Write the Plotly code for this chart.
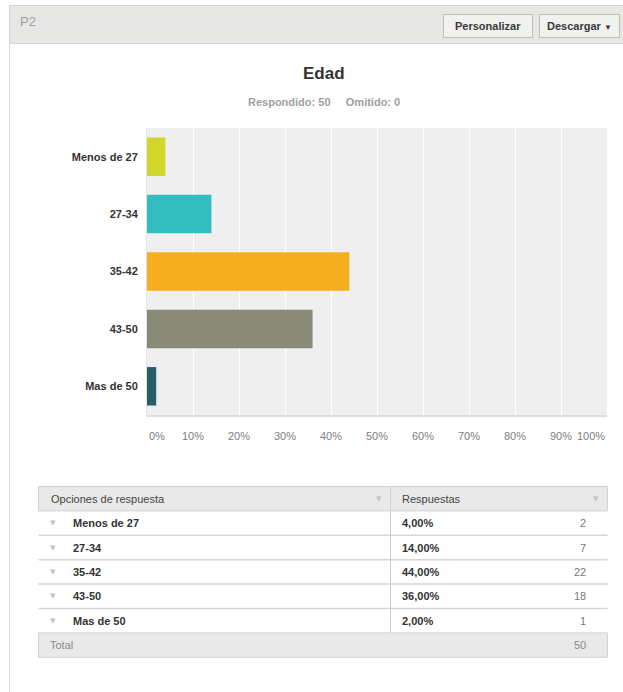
import plotly.graph_objects as go

# ---- data ----
categories = ["Menos de 27", "27-34", "35-42", "43-50", "Mas de 50"]
percentages = [4.0, 14.0, 44.0, 36.0, 2.0]
counts = [2, 7, 22, 18, 1]
total = 50
omitted = 0
bar_colors = ["#d0d62a", "#33bdbf", "#f7ae1e", "#8a8a78", "#2a5d6a"]
x_tick_vals = [0, 10, 20, 30, 40, 50, 60, 70, 80, 90, 100]
x_tick_text = ["0%", "10%", "20%", "30%", "40%", "50%",
               "60%", "70%", "80%", "90%", "100%"]

W, H = 623, 692
FONT = "Liberation Sans, Arial, sans-serif"


def px(x):
    return x / W


def py(y):
    return 1 - y / H


fig = go.Figure()
fig.add_trace(go.Bar(
    x=percentages, y=categories, orientation="h",
    marker=dict(color=bar_colors, line=dict(width=0)),
    width=0.67, hoverinfo="skip", showlegend=False,
))

shapes = []
annotations = []

# header bar
shapes.append(dict(type="rect", xref="paper", yref="paper",
                   x0=px(9.5), x1=px(640), y0=py(5.5), y1=py(43.5),
                   fillcolor="#e7e7e5", line=dict(color="#d6d6d4", width=1), layer="below"))
# left panel border
shapes.append(dict(type="line", xref="paper", yref="paper",
                   x0=px(9.5), x1=px(9.5), y0=py(43.5), y1=py(700),
                   line=dict(color="#d9d9d9", width=1)))
annotations.append(dict(text="P2", x=px(18), y=py(22), xref="paper", yref="paper",
                        xanchor="left", yanchor="middle", showarrow=False,
                        font=dict(family=FONT, size=13, color="#a0a0a0")))

# buttons
for (bx0, bx1, label) in [(443.5, 532.5, "<b>Personalizar</b>"),
                          (539.5, 619.5, "<b>Descargar</b> <span style='font-size:8px'>▼</span>")]:
    shapes.append(dict(type="rect", xref="paper", yref="paper",
                       x0=px(bx0), x1=px(bx1), y0=py(14.5), y1=py(37.5),
                       fillcolor="#f1f1ef", line=dict(color="#bdbdbb", width=1)))
    annotations.append(dict(text=label, x=px((bx0 + bx1) / 2), y=py(26),
                            xref="paper", yref="paper", xanchor="center", yanchor="middle",
                            showarrow=False, font=dict(family=FONT, size=11, color="#3a3a3a")))

# title / subtitle
annotations.append(dict(text="<b>Edad</b>", x=px(324), y=py(74), xref="paper", yref="paper",
                        xanchor="center", yanchor="middle", showarrow=False,
                        font=dict(family=FONT, size=17, color="#333333")))
annotations.append(dict(text=f"<b>Respondido: {total}</b>" + "\u00a0" * 5 + f"<b>Omitido: {omitted}</b>",
                        x=px(324), y=py(102), xref="paper", yref="paper",
                        xanchor="center", yanchor="middle", showarrow=False,
                        font=dict(family=FONT, size=11, color="#a0a0a0")))

# x tick labels placed through the x axis scale (first left-aligned, last right-aligned)
for i, (tv, tt) in enumerate(zip(x_tick_vals, x_tick_text)):
    anchor = "left" if i == 0 else ("right" if i == len(x_tick_vals) - 1 else "center")
    annotations.append(dict(text=tt, x=tv, y=py(436), xref="x", yref="paper",
                            xanchor=anchor, yanchor="middle", showarrow=False,
                            font=dict(family=FONT, size=11, color="#808080")))

# ---- table ----
TL, TR, TD = 38.5, 607.5, 390.5
top = 486.5
rh = 24.4
n = len(categories)
rows_y = [top + rh * i for i in range(n + 3)]

# header
shapes.append(dict(type="rect", xref="paper", yref="paper",
                   x0=px(TL), x1=px(TR), y0=py(rows_y[0]), y1=py(rows_y[1]),
                   fillcolor="#e9e9e9", line=dict(color="#d2d2d2", width=1)))
# total row
shapes.append(dict(type="rect", xref="paper", yref="paper",
                   x0=px(TL), x1=px(TR), y0=py(rows_y[n + 1]), y1=py(rows_y[n + 2]),
                   fillcolor="#e9e9e9", line=dict(color="#d2d2d2", width=1)))
# row separators
for i in range(2, n + 1):
    shapes.append(dict(type="line", xref="paper", yref="paper",
                       x0=px(TL), x1=px(TR), y0=py(rows_y[i]), y1=py(rows_y[i]),
                       line=dict(color="#d6d6d6", width=1.5)))
# vertical divider
shapes.append(dict(type="line", xref="paper", yref="paper",
                   x0=px(TD), x1=px(TD), y0=py(rows_y[0]), y1=py(rows_y[n + 1]),
                   line=dict(color="#cfcfcf", width=1)))

hy = (rows_y[0] + rows_y[1]) / 2
annotations.append(dict(text="Opciones de respuesta", x=px(49), y=py(hy), xref="paper", yref="paper",
                        xanchor="left", yanchor="middle", showarrow=False,
                        font=dict(family=FONT, size=11, color="#444444")))
annotations.append(dict(text="Respuestas", x=px(400), y=py(hy), xref="paper", yref="paper",
                        xanchor="left", yanchor="middle", showarrow=False,
                        font=dict(family=FONT, size=11, color="#444444")))
for cx in (379, 596):
    annotations.append(dict(text="▼", x=px(cx), y=py(hy), xref="paper", yref="paper",
                            xanchor="center", yanchor="middle", showarrow=False,
                            font=dict(family="DejaVu Sans", size=7, color="#c4c4c4")))

for i, (cat, pct, cnt) in enumerate(zip(categories, percentages, counts)):
    cy = (rows_y[i + 1] + rows_y[i + 2]) / 2
    annotations.append(dict(text="▼", x=px(53), y=py(cy), xref="paper", yref="paper",
                            xanchor="center", yanchor="middle", showarrow=False,
                            font=dict(family="DejaVu Sans", size=7, color="#c4c4c4")))
    annotations.append(dict(text=f"<b>{cat}</b>", x=px(71), y=py(cy), xref="paper", yref="paper",
                            xanchor="left", yanchor="middle", showarrow=False,
                            font=dict(family=FONT, size=11, color="#333333")))
    annotations.append(dict(text="<b>" + f"{pct:.2f}".replace(".", ",") + "%</b>",
                            x=px(400), y=py(cy), xref="paper", yref="paper",
                            xanchor="left", yanchor="middle", showarrow=False,
                            font=dict(family=FONT, size=11, color="#333333")))
    annotations.append(dict(text=str(cnt), x=px(588), y=py(cy), xref="paper", yref="paper",
                            xanchor="right", yanchor="middle", showarrow=False,
                            font=dict(family=FONT, size=11, color="#7a7a7a")))

ty = (rows_y[n + 1] + rows_y[n + 2]) / 2
annotations.append(dict(text="Total", x=px(48), y=py(ty), xref="paper", yref="paper",
                        xanchor="left", yanchor="middle", showarrow=False,
                        font=dict(family=FONT, size=11, color="#8a8a8a")))
annotations.append(dict(text=str(total), x=px(588), y=py(ty), xref="paper", yref="paper",
                        xanchor="right", yanchor="middle", showarrow=False,
                        font=dict(family=FONT, size=11, color="#8a8a8a")))

fig.update_layout(
    width=W, height=H, autosize=False,
    margin=dict(l=0, r=0, t=0, b=0, pad=0),
    paper_bgcolor="white", plot_bgcolor="#efefef",
    font=dict(family=FONT),
    shapes=shapes, annotations=annotations,
    bargap=0.33,
    xaxis=dict(domain=[px(147), px(607)], range=[0, 100], automargin=False,
               tickvals=x_tick_vals, showticklabels=False,
               showgrid=True, gridcolor="#ffffff", gridwidth=1, zeroline=False,
               showline=True, linecolor="#dedede", linewidth=2,
               fixedrange=True),
    yaxis=dict(domain=[py(415), py(128)], range=[4.5, -0.5], automargin=False,
               categoryorder="array", categoryarray=categories,
               tickvals=categories, ticktext=[f"<b>{c}</b>" for c in categories],
               showgrid=False, zeroline=False,
               showline=True, linecolor="#e4e4e4", linewidth=1,
               ticks="outside", ticklen=6, tickcolor="rgba(0,0,0,0)",
               tickfont=dict(family=FONT, size=11, color="#333333"),
               fixedrange=True),
)

fig.write_html("out.html")
